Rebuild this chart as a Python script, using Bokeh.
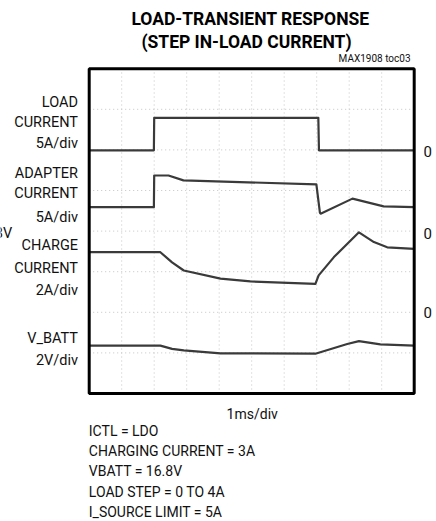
from bokeh.plotting import figure
from bokeh.models import Range1d
from bokeh.core.properties import value
from bokeh.embed import file_html
from bokeh.resources import INLINE

# ---- data (oscilloscope divisions: x 0..10, y 0..8) ----
load_t = [0, 1.99, 2.0, 7.05, 7.07, 10]
load_v = [5.99, 5.99, 6.79, 6.79, 5.99, 5.99]

adapter_t = [0, 1.99, 2.0, 2.44, 2.9, 6.99, 7.1, 7.12, 8.1, 9.06, 10]
adapter_v = [4.59, 4.59, 5.37, 5.37, 5.25, 5.15, 4.45, 4.43, 4.80, 4.61, 4.59]

charge_t = [0, 2.19, 2.55, 2.91, 4.04, 4.96, 6.96, 7.06, 7.53, 8.30, 8.76, 9.17, 10]
charge_v = [3.48, 3.48, 3.23, 3.03, 2.83, 2.76, 2.70, 2.91, 3.36, 3.97, 3.73, 3.60, 3.56]

vbatt_t = [0, 2.19, 2.55, 2.91, 4.04, 6.96, 7.94, 8.30, 8.96, 10]
vbatt_v = [1.18, 1.18, 1.10, 1.06, 0.99, 0.98, 1.22, 1.29, 1.21, 1.18]

x_divs = list(range(11))
y_divs = list(range(9))

left_labels = [["LOAD", "CURRENT", "5A/div"],
               ["ADAPTER", "CURRENT", "5A/div"],
               ["CHARGE", "CURRENT", "2A/div"],
               ["V_BATT", "2V/div"]]
notes = ["ICTL = LDO", "CHARGING CURRENT = 3A", "VBATT = 16.8V",
         "LOAD STEP = 0 TO 4A", "I_SOURCE LIMIT = 5A"]

# ---- picture-pixel -> data mapping ----
X0, XS = 88.7, 32.5
Y0, YS = 393.0, 40.6
W, H = 436, 521
def px(x):
    return (x - X0) / XS
def py(y):
    return (Y0 - y) / YS

p = figure(width=W, height=H, output_backend="svg", toolbar_location=None,
           x_axis_type=None, y_axis_type=None, min_border=0,
           x_range=Range1d(px(0), px(W)), y_range=Range1d(py(H), py(0)))
p.outline_line_color = None
p.grid.visible = False
p.background_fill_color = "white"

# graticule
p.segment(x0=x_divs, y0=[0] * len(x_divs), x1=x_divs, y1=[8] * len(x_divs),
          line_color="#c4c4c4", line_width=1, line_dash="1 3")
p.segment(x0=[0] * len(y_divs), y0=y_divs, x1=[10] * len(y_divs), y1=y_divs,
          line_color="#c4c4c4", line_width=1, line_dash="1 3")

TR = "#3a3a3a"
for t, v in [(load_t, load_v), (adapter_t, adapter_v), (charge_t, charge_v), (vbatt_t, vbatt_v)]:
    p.line(t, v, line_color=TR, line_width=2.2, line_join="round")

# frame
p.quad(left=[0], right=[10], bottom=[0], top=[8], fill_color=None,
       line_color="black", line_width=3)

FN = value("Roboto")

def txt(x, y, s, size="15px", align="left", bold=False, color="#111111"):
    p.text(x=[px(x)], y=[py(y)], text=[s], text_font=FN, text_font_size=size,
           text_align=align, text_baseline="middle", text_color=color,
           text_font_style="bold" if bold else "normal")

# title
txt(250, 18.5, "LOAD-TRANSIENT RESPONSE", size="17.5px", align="center", bold=True, color="black")
txt(246, 41.5, "(STEP IN-LOAD CURRENT)", size="17.5px", align="center", bold=True, color="black")
txt(410, 57.5, "MAX1908 toc03", size="10px", align="right")

# left labels
ys = [[101.7, 121.7, 143.3], [173.3, 193.3, 216.7], [245, 268.3, 290], [338.3, 360]]
for grp, yy in zip(left_labels, ys):
    for s, y in zip(grp, yy):
        txt(77.5, y, s, size="14.5px", align="right")
txt(11.7, 233.3, "16.8V", size="14.5px", align="right")

# right zero markers
for y in [150.7, 233.3, 312]:
    txt(423, y, "0")

# bottom
txt(251.7, 413.3, "1ms/div", size="14px", align="center")
for i, s in enumerate(notes):
    txt(88.3, 430 + i * 20.4, s, size="14px")

open("out.html", "w").write(file_html(p, INLINE))
